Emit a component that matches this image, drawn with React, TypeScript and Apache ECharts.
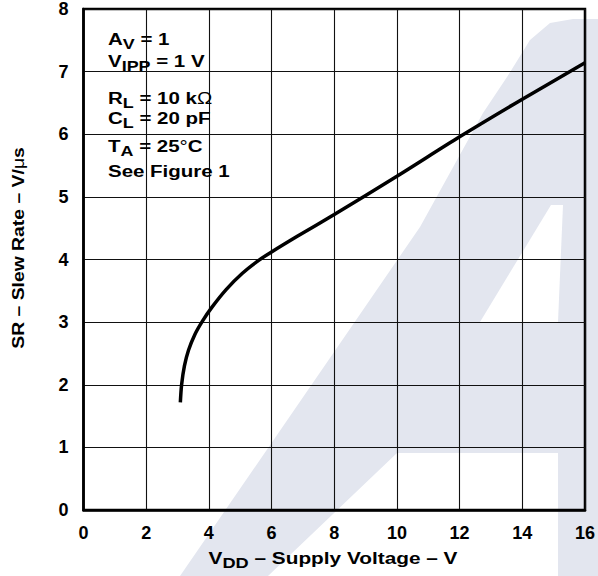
import React, { useEffect, useRef } from "react";
import * as echarts from "echarts";

// Supply voltage V_DD (V) and slew rate SR (V/µs)
const supplyVoltage = [3.09, 3.13, 3.22, 3.35, 3.55, 3.8, 4.1, 4.55, 5.07, 5.6, 6.0, 6.82, 8, 10, 12, 14, 16];
const slewRate = [1.72, 2.0, 2.3, 2.55, 2.8, 3.02, 3.24, 3.52, 3.78, 3.99, 4.12, 4.37, 4.72, 5.33, 5.96, 6.56, 7.14];

const xRange = [0, 16];
const yRange = [0, 8];
const xStep = 2;
const yStep = 1;

// Test conditions text (main, subscript, rest)
const conditionMain = ["A", "V", "R", "C", "T", "See Figure 1"];
const conditionSub = ["V", "IPP", "L", "L", "A", ""];
const conditionRest = [" = 1", " = 1 V", " = 10 k", " = 20 pF", " = 25", ""];
const conditionTail = ["", "", "Ω", "", "°C", ""];

const FONT = '"Liberation Sans", Arial, Helvetica, sans-serif';

export default function App() {
  const ref = useRef<HTMLDivElement>(null);

  useEffect(() => {
    if (!ref.current) return;
    const chart = echarts.init(ref.current, null, { renderer: "svg" });

    const rich = {
      m: { fontSize: 16, fontWeight: "bold", fontFamily: FONT, fill: "#000", color: "#000" },
      s: { fontSize: 14, fontWeight: "bold", fontFamily: FONT, fill: "#000", color: "#000", padding: [10, 0, 0, 0] },
      g: { fontSize: 16, fontWeight: "normal", fontFamily: FONT, fill: "#000", color: "#000" },
    };

    const lineCenters = [39, 61, 98, 118, 146, 171];
    const conditionTexts = conditionMain.map((m, i) => {
      let t = `{m|${m}}`;
      if (conditionSub[i]) t += `{s|${conditionSub[i]}}`;
      if (conditionRest[i]) t += `{m|${conditionRest[i]}}`;
      if (conditionTail[i] === "Ω") t += `{g|Ω}`;
      if (conditionTail[i] === "°C") t += `{g|°}{m|C}`;
      return {
        type: "text",
        x: 108,
        y: lineCenters[i],
        scaleX: 1.28,
        z: 20,
        style: {
          text: t,
          rich,
          align: "left",
          textAlign: "left",
          verticalAlign: "middle",
          textVerticalAlign: "middle",
          fill: "#000",
        },
      };
    });

    const wm = "#e3e6ef";

    const option = {
      animation: false,
      backgroundColor: "#fff",
      grid: {
        left: 83.5,
        top: 6.5,
        width: 503,
        height: 503.5,
        show: true,
        borderColor: "#000",
        borderWidth: 2.5,
        backgroundColor: "transparent",
        containLabel: false,
      },
      xAxis: {
        type: "value",
        min: xRange[0],
        max: xRange[1],
        interval: xStep,
        axisLine: { show: true, lineStyle: { color: "#000", width: 2.5 } },
        axisTick: { show: false },
        splitLine: { show: true, lineStyle: { color: "#111", width: 1.1 } },
        axisLabel: {
          color: "#000",
          fontSize: 18,
          fontWeight: "bold",
          fontFamily: FONT,
          margin: 14,
        },
      },
      yAxis: {
        type: "value",
        min: yRange[0],
        max: yRange[1],
        interval: yStep,
        axisLine: { show: true, lineStyle: { color: "#000", width: 2.5 } },
        axisTick: { show: false },
        splitLine: { show: true, lineStyle: { color: "#111", width: 1.1 } },
        axisLabel: {
          color: "#000",
          fontSize: 18,
          fontWeight: "bold",
          fontFamily: FONT,
          margin: 15,
        },
      },
      series: [
        {
          type: "line",
          data: supplyVoltage.map((v, i) => [v, slewRate[i]]),
          showSymbol: false,
          smooth: 0.3,
          lineStyle: { color: "#000", width: 3.5 },
          z: 5,
        },
      ],
      graphic: [
        {
          type: "polygon",
          z: -10,
          silent: true,
          shape: {
            points: [
              [180, 576], [420, 227], [483, 113], [507, 77], [530, 40], [550, 23], [573, 19], [598, 19],
              [598, 576], [558, 576], [558, 453], [397, 453], [268, 576],
            ],
          },
          style: { fill: wm },
        },
        {
          type: "polygon",
          z: -9,
          silent: true,
          shape: { points: [[480, 322], [558, 322], [563, 205], [551, 205]] },
          style: { fill: "#fff" },
        },
        ...conditionTexts,
        {
          type: "text",
          x: 333,
          y: 558,
          scaleX: 1.3,
          z: 20,
          style: {
            text: "{m|V}{s|DD}{m| – Supply Voltage – V}",
            rich,
            align: "center",
            textAlign: "center",
            verticalAlign: "middle",
            textVerticalAlign: "middle",
            fill: "#000",
          },
        },
        {
          type: "text",
          x: 18.5,
          y: 248,
          rotation: Math.PI / 2,
          scaleX: 1.21,
          z: 20,
          style: {
            text: "{m|SR – Slew Rate – V/}{g|μ}{m|s}",
            rich,
            align: "center",
            textAlign: "center",
            verticalAlign: "middle",
            textVerticalAlign: "middle",
            fill: "#000",
          },
        },
      ],
    };

    chart.setOption(option as any);
    return () => chart.dispose();
  }, []);

  return (
    <div
      ref={ref}
      style={{ position: "absolute", left: 0, top: 0, width: 598, height: 576 }}
    />
  );
}
